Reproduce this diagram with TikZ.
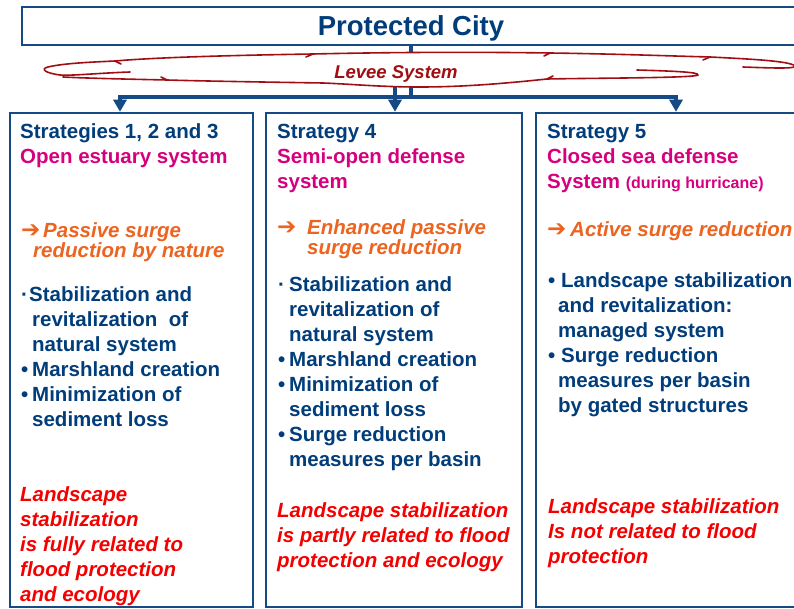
\documentclass[tikz,border=0pt]{standalone}
\usepackage{fontspec}
\setmainfont{Liberation Sans}
\newfontfamily\arrowfont{DejaVu Sans Bold}
\usetikzlibrary{arrows.meta}
\definecolor{navy}{HTML}{003D7A}
\definecolor{boxblue}{HTML}{154A85}
\definecolor{magentaT}{HTML}{D6007F}
\definecolor{orangeT}{HTML}{EC6420}
\definecolor{redT}{HTML}{F50000}
\definecolor{cloudred}{HTML}{A00D12}
\newcommand{\hvarrow}{{\arrowfont\fontsize{23}{19}\selectfont\upshape ➔}}
\begin{document}
\begin{tikzpicture}[x=1pt,y=-1pt,
  frame/.style={draw=boxblue,line width=2.5pt,inner sep=0pt,fill=white},
  conn/.style={draw=boxblue,line width=3.5pt,line join=miter},
  arr/.style={-{Triangle[width=13pt,length=12pt]}},
  txt/.style={anchor=base west,align=left,inner sep=0pt,text=navy,
    font=\fontsize{20.5}{25}\selectfont\bfseries},
  orng/.style={anchor=base west,align=left,inner sep=0pt,text=orangeT,
    font=\fontsize{20.5}{19}\selectfont\bfseries\itshape},
  redtxt/.style={anchor=base west,align=left,inner sep=0pt,text=redT,
    font=\fontsize{20.5}{25}\selectfont\bfseries\itshape},
  cloudline/.style={draw=cloudred,line width=1.6pt,line cap=round,line join=round}]
\useasboundingbox (0,0) rectangle (794,609);
\clip (0,0) rectangle (794,609);

% boxes
\node[frame,minimum width=778pt,minimum height=38pt,text=navy,text depth=0pt,
  font=\fontsize{27.5}{30}\selectfont\bfseries] (city) at (411,26) {Protected City};
\node[frame,minimum width=243pt,minimum height=494pt] (b1) at (131.5,360) {};
\node[frame,minimum width=256pt,minimum height=494pt] (b2) at (394,360) {};
\node[frame,minimum width=264pt,minimum height=494pt] (b3) at (668,360) {};

% connectors
\coordinate (j) at (411,97);
\coordinate (L) at (120,97);
\coordinate (R) at (676,97);
\coordinate (m) at (395,80);
\draw[conn] (city.south) -- (j);
\draw[conn,arr] (j) -- (L) -- (L |- b1.north);
\draw[conn,arr] (j) -- (R) -- (R |- b3.north);
\draw[conn,arr] (m) -- (m |- b2.north);

% cloud
\fill[white] (48,67) .. controls (65,63) and (95,62) .. (115,61)
 .. controls (160,57) and (250,55) .. (313,54)
 .. controls (400,52) and (480,52) .. (550,53)
 .. controls (620,54) and (670,56) .. (710,57)
 .. controls (750,59) and (790,61) .. (795,66)
 .. controls (797,70) and (720,71) .. (698,75)
 .. controls (695,78) and (600,78) .. (547,79)
 .. controls (500,84) and (460,87) .. (420,87)
 .. controls (380,87) and (350,84) .. (323,83)
 .. controls (260,82) and (200,81) .. (167,80)
 .. controls (120,79) and (80,78) .. (63,77)
 .. controls (45,74) and (40,70) .. (48,67) -- cycle;
\draw[cloudline] (130,72) .. controls (100,73) and (70,76) .. (60,75)
 .. controls (45,73) and (40,69) .. (48,67)
 .. controls (65,63) and (95,62) .. (115,61)
 .. controls (160,57) and (250,55) .. (313,54)
 .. controls (400,52) and (480,52) .. (550,53)
 .. controls (620,54) and (670,56) .. (710,57)
 .. controls (750,59) and (790,61) .. (795,66)
 .. controls (797,69) and (770,68) .. (743,67);
\draw[cloudline] (637,70) .. controls (670,71) and (700,72) .. (698,75)
 .. controls (695,78) and (600,78) .. (547,79)
 .. controls (500,84) and (460,87) .. (420,87)
 .. controls (380,87) and (350,84) .. (323,83)
 .. controls (260,82) and (200,81) .. (167,80)
 .. controls (120,79) and (80,78) .. (63,77);
\draw[cloudline] (115,61) -- (121,64);
\draw[cloudline] (313,54) -- (306,57);
\draw[cloudline] (550,53) -- (544,56);
\draw[cloudline] (710,57) -- (703,60);
\draw[cloudline] (547,79) -- (553,76);
\draw[cloudline] (167,80) -- (161,77);
\node[anchor=base,inner sep=0pt,text=cloudred,
  font=\fontsize{18.5}{20}\selectfont\bfseries\itshape] (levee) at (396,79) {Levee System};

% box 1 (anchors at the baseline of the LAST line of each node)
\node[txt] (t1) at (20,164) {Strategies 1, 2 and 3\\\textcolor{magentaT}{Open estuary system}};
\node[orng] (o1) at (21,258) {\makebox[22pt][l]{\hvarrow}Passive surge\\\hspace*{12pt}reduction by nature};
\node[txt] (l1) at (21,426) {\makebox[8pt][l]{·}Stabilization and\\\hspace*{11pt}revitalization\ \ of\\\hspace*{11pt}natural system\\\makebox[11pt][l]{•}Marshland creation\\\makebox[11pt][l]{•}Minimization of\\\hspace*{11pt}sediment loss};
\node[redtxt] (r1) at (20,601) {Landscape\\stabilization\\is fully related to\\flood protection\\and ecology};

% box 2
\node[txt] (t2) at (277,189) {Strategy 4\\\textcolor{magentaT}{Semi-open defense}\\\textcolor{magentaT}{system}};
\node[orng] (o2) at (277,255) {\makebox[30pt][l]{\hvarrow}Enhanced passive\\\hspace*{30pt}surge reduction};
\node[txt] (l2) at (278,466) {\makebox[11pt][l]{·}Stabilization and\\\hspace*{11pt}revitalization of\\\hspace*{11pt}natural system\\\makebox[11pt][l]{•}Marshland creation\\\makebox[11pt][l]{•}Minimization of\\\hspace*{11pt}sediment loss\\\makebox[11pt][l]{•}Surge reduction\\\hspace*{11pt}measures per basin};
\node[redtxt] (r2) at (277,567) {Landscape stabilization\\is partly related to flood\\protection and ecology};

% box 3
\node[txt] (t3) at (547,189) {Strategy 5\\\textcolor{magentaT}{Closed sea defense}\\\textcolor{magentaT}{System {\fontsize{16}{25}\selectfont (during hurricane)}}};
\node[orng] (o3) at (547,237) {\makebox[23pt][l]{\hvarrow}Active surge reduction};
\node[txt] (l3) at (548,412) {\makebox[13pt][l]{•}Landscape stabilization\\\hspace*{10pt}and revitalization:\\\hspace*{10pt}managed system\\\makebox[13pt][l]{•}Surge reduction\\\hspace*{10pt}measures per basin\\\hspace*{10pt}by gated structures};
\node[redtxt] (r3) at (548,563) {Landscape stabilization\\Is not related to flood\\protection};
\end{tikzpicture}
\end{document}
